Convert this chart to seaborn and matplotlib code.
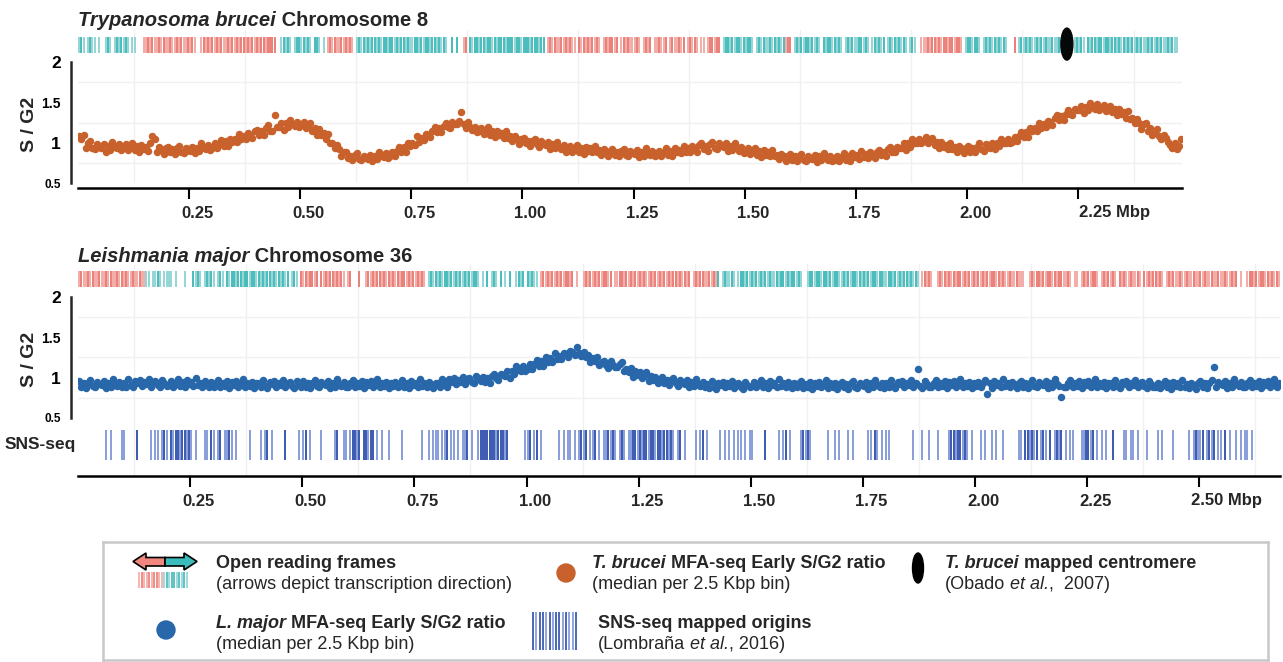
import numpy as np
import pandas as pd
import matplotlib
matplotlib.use('Agg')
import matplotlib.pyplot as plt
import matplotlib.transforms as mtransforms
from matplotlib.patches import Ellipse, Polygon, Circle
from matplotlib.text import Annotation
import seaborn as sns

# MFA-seq early S/G2 ratio, one value per 5 kbp (one row = 0.1 Mbp)
bin_mbp = 0.005
tb_ratio = [
    1.08, 1.04, 1.10, 0.93, 1.00, 1.02, 0.94, 0.92, 0.98, 0.95, 0.93, 0.98, 0.89, 0.96, 0.91, 1.01, 0.95, 0.93, 0.98, 0.91,  # 0.0
    0.93, 0.98, 0.91, 0.95, 0.99, 0.91, 0.96, 0.89, 0.97, 0.92, 0.95, 0.90, 0.99, 1.08, 1.05, 0.88, 0.95, 0.92, 0.86, 0.93,
    0.95, 0.88, 0.92, 0.86, 0.93, 0.96, 0.89, 0.87, 0.94, 0.91, 0.90, 0.95, 0.87, 0.94, 0.90, 0.99, 0.93, 0.92, 0.97, 0.91,
    0.93, 0.99, 0.93, 0.98, 1.03, 0.96, 1.02, 0.96, 1.05, 1.01, 1.05, 1.01, 1.11, 1.04, 1.08, 1.04, 1.12, 1.10, 1.06, 1.14,
    1.16, 1.10, 1.15, 1.10, 1.18, 1.22, 1.15, 1.14, 1.34, 1.20, 1.20, 1.25, 1.16, 1.24, 1.19, 1.28, 1.23, 1.21, 1.26, 1.20,
    1.22, 1.26, 1.18, 1.21, 1.24, 1.14, 1.18, 1.09, 1.17, 1.10, 1.12, 1.04, 1.11, 1.00, 1.00, 0.93, 0.97, 0.92, 0.84, 0.88,  # 0.5
    0.88, 0.81, 0.84, 0.78, 0.85, 0.87, 0.80, 0.78, 0.84, 0.81, 0.80, 0.85, 0.77, 0.84, 0.80, 0.89, 0.83, 0.82, 0.87, 0.81,
    0.83, 0.89, 0.84, 0.90, 0.95, 0.89, 0.95, 0.89, 1.00, 0.96, 1.00, 0.97, 1.08, 1.01, 1.06, 1.03, 1.11, 1.10, 1.07, 1.15,
    1.19, 1.13, 1.18, 1.13, 1.21, 1.25, 1.19, 1.18, 1.26, 1.23, 1.23, 1.27, 1.38, 1.23, 1.18, 1.26, 1.19, 1.16, 1.20, 1.13,
    1.14, 1.18, 1.11, 1.15, 1.19, 1.10, 1.14, 1.07, 1.15, 1.10, 1.12, 1.06, 1.14, 1.06, 1.08, 1.02, 1.08, 1.04, 0.98, 1.05,
    1.06, 0.99, 1.02, 0.96, 1.02, 1.05, 0.98, 0.95, 1.02, 0.98, 0.97, 1.01, 0.92, 0.98, 0.93, 1.01, 0.95, 0.92, 0.97, 0.89,  # 1.0
    0.91, 0.96, 0.89, 0.93, 0.97, 0.89, 0.94, 0.86, 0.95, 0.90, 0.93, 0.88, 0.96, 0.88, 0.91, 0.85, 0.92, 0.89, 0.83, 0.90,
    0.92, 0.85, 0.89, 0.83, 0.90, 0.92, 0.85, 0.83, 0.90, 0.87, 0.86, 0.91, 0.82, 0.89, 0.84, 0.93, 0.87, 0.85, 0.90, 0.83,
    0.85, 0.90, 0.83, 0.89, 0.93, 0.85, 0.90, 0.84, 0.93, 0.88, 0.91, 0.87, 0.96, 0.89, 0.93, 0.88, 0.96, 0.94, 0.89, 0.97,
    0.99, 0.92, 0.96, 0.90, 0.98, 1.01, 0.94, 0.92, 0.99, 0.96, 0.95, 0.99, 0.90, 0.96, 0.91, 0.99, 0.93, 0.90, 0.95, 0.87,
    0.89, 0.93, 0.86, 0.90, 0.94, 0.85, 0.90, 0.82, 0.91, 0.85, 0.88, 0.83, 0.91, 0.83, 0.85, 0.80, 0.86, 0.83, 0.77, 0.84,  # 1.5
    0.86, 0.79, 0.83, 0.77, 0.84, 0.86, 0.79, 0.77, 0.84, 0.81, 0.80, 0.85, 0.76, 0.83, 0.78, 0.87, 0.81, 0.79, 0.84, 0.77,
    0.79, 0.84, 0.77, 0.82, 0.87, 0.79, 0.84, 0.77, 0.87, 0.82, 0.85, 0.80, 0.90, 0.82, 0.86, 0.81, 0.88, 0.86, 0.81, 0.89,
    0.91, 0.85, 0.89, 0.84, 0.92, 0.95, 0.89, 0.88, 0.95, 0.93, 0.93, 0.99, 0.91, 0.99, 0.95, 1.05, 1.00, 0.99, 1.05, 0.99,
    1.02, 1.07, 0.99, 1.03, 1.06, 0.97, 1.01, 0.93, 1.01, 0.95, 0.97, 0.92, 1.00, 0.92, 0.95, 0.89, 0.96, 0.93, 0.87, 0.94,
    0.96, 0.89, 0.94, 0.88, 0.95, 0.99, 0.92, 0.90, 0.98, 0.95, 0.94, 1.00, 0.92, 1.00, 0.96, 1.05, 1.00, 0.99, 1.05, 0.99,  # 2.0
    1.01, 1.07, 1.02, 1.08, 1.13, 1.07, 1.13, 1.07, 1.18, 1.14, 1.18, 1.14, 1.25, 1.18, 1.23, 1.19, 1.27, 1.26, 1.22, 1.31,
    1.34, 1.28, 1.33, 1.28, 1.36, 1.41, 1.35, 1.34, 1.42, 1.40, 1.40, 1.45, 1.37, 1.44, 1.40, 1.49, 1.44, 1.42, 1.48, 1.41,
    1.43, 1.47, 1.39, 1.43, 1.46, 1.38, 1.42, 1.34, 1.42, 1.36, 1.38, 1.31, 1.39, 1.29, 1.30, 1.24, 1.29, 1.24, 1.17, 1.23,
    1.24, 1.15, 1.18, 1.10, 1.15, 1.17, 1.08, 1.05, 1.10, 1.06, 1.01, 0.97, 0.94, 0.99, 0.92, 0.96, 1.04,
]
lm_ratio = [
    0.96, 0.89, 0.93, 0.87, 0.94, 0.97, 0.90, 0.88, 0.95, 0.92, 0.91, 0.96, 0.87, 0.94, 0.89, 0.98, 0.92, 0.90, 0.95, 0.88,  # 0.0
    0.94, 0.89, 0.98, 0.91, 0.88, 0.96, 0.93, 0.97, 0.90, 0.95, 0.92, 0.98, 0.89, 0.94, 0.96, 0.91, 0.88, 0.97, 0.93, 0.90,
    0.91, 0.96, 0.89, 0.94, 0.98, 0.90, 0.95, 0.88, 0.97, 0.92, 0.95, 0.90, 0.99, 0.91, 0.94, 0.89, 0.96, 0.93, 0.88, 0.95,
    0.89, 0.94, 0.97, 0.88, 0.93, 0.90, 0.96, 0.87, 0.95, 0.91, 0.96, 0.89, 0.92, 0.98, 0.88, 0.94, 0.90, 0.95, 0.87, 0.93,
    0.93, 0.88, 0.97, 0.90, 0.87, 0.95, 0.92, 0.96, 0.89, 0.94, 0.91, 0.97, 0.88, 0.93, 0.95, 0.90, 0.87, 0.96, 0.92, 0.89,
    0.96, 0.89, 0.93, 0.87, 0.94, 0.97, 0.90, 0.88, 0.95, 0.92, 0.91, 0.96, 0.87, 0.94, 0.89, 0.98, 0.92, 0.90, 0.95, 0.88,  # 0.5
    0.89, 0.94, 0.97, 0.88, 0.93, 0.90, 0.96, 0.87, 0.95, 0.91, 0.96, 0.89, 0.92, 0.98, 0.88, 0.94, 0.90, 0.95, 0.87, 0.93,
    0.90, 0.95, 0.88, 0.93, 0.97, 0.89, 0.94, 0.87, 0.96, 0.91, 0.94, 0.89, 0.98, 0.90, 0.93, 0.88, 0.95, 0.92, 0.87, 0.94,
    0.94, 0.89, 0.98, 0.92, 0.89, 0.98, 0.95, 0.99, 0.92, 0.97, 0.95, 1.01, 0.92, 0.98, 1.00, 0.95, 0.93, 1.02, 0.99, 0.96,
    1.01, 0.95, 0.99, 0.94, 1.02, 1.05, 0.99, 0.97, 1.05, 1.03, 1.02, 1.08, 1.00, 1.08, 1.04, 1.14, 1.09, 1.08, 1.14, 1.08,
    1.11, 1.17, 1.11, 1.17, 1.22, 1.15, 1.21, 1.15, 1.25, 1.20, 1.24, 1.20, 1.30, 1.23, 1.27, 1.23, 1.31, 1.29, 1.25, 1.33,  # 1.0
    1.32, 1.28, 1.38, 1.31, 1.27, 1.32, 1.26, 1.28, 1.20, 1.24, 1.21, 1.26, 1.16, 1.20, 1.21, 1.16, 1.12, 1.21, 1.16, 1.13,
    1.13, 1.17, 1.19, 1.08, 1.11, 1.07, 1.12, 1.01, 1.08, 1.03, 1.07, 0.99, 1.02, 1.07, 0.96, 1.02, 0.97, 1.01, 0.93, 0.98,
    1.01, 0.93, 0.97, 0.91, 0.97, 0.99, 0.93, 0.90, 0.97, 0.94, 0.92, 0.97, 0.88, 0.95, 0.90, 0.98, 0.92, 0.90, 0.95, 0.88,
    0.92, 0.87, 0.96, 0.89, 0.86, 0.94, 0.91, 0.95, 0.88, 0.93, 0.90, 0.96, 0.87, 0.92, 0.94, 0.89, 0.86, 0.95, 0.91, 0.88,
    0.90, 0.95, 0.88, 0.93, 0.97, 0.89, 0.94, 0.87, 0.96, 0.91, 0.94, 0.89, 0.98, 0.90, 0.93, 0.88, 0.95, 0.92, 0.87, 0.94,  # 1.5
    0.88, 0.93, 0.96, 0.87, 0.92, 0.89, 0.95, 0.86, 0.94, 0.90, 0.95, 0.88, 0.91, 0.97, 0.87, 0.93, 0.89, 0.94, 0.86, 0.92,
    0.95, 0.88, 0.92, 0.86, 0.93, 0.96, 0.89, 0.87, 0.94, 0.91, 0.90, 0.95, 0.86, 0.93, 0.88, 0.97, 0.91, 0.89, 0.94, 0.87,
    0.93, 0.88, 0.97, 0.90, 0.87, 0.95, 0.92, 0.96, 0.89, 0.94, 0.91, 0.97, 0.88, 0.93, 1.11, 0.90, 0.87, 0.96, 0.92, 0.89,
    0.89, 0.94, 0.97, 0.88, 0.93, 0.90, 0.96, 0.87, 0.95, 0.91, 0.96, 0.89, 0.92, 0.98, 0.88, 0.94, 0.90, 0.95, 0.87, 0.93,
    0.90, 0.95, 0.88, 0.93, 0.97, 0.80, 0.94, 0.87, 0.96, 0.91, 0.94, 0.89, 0.98, 0.90, 0.93, 0.88, 0.95, 0.92, 0.87, 0.94,  # 2.0
    0.96, 0.89, 0.93, 0.87, 0.94, 0.97, 0.90, 0.88, 0.95, 0.92, 0.91, 0.96, 0.87, 0.94, 0.89, 0.98, 0.92, 0.90, 0.76, 0.88,
    0.89, 0.94, 0.97, 0.88, 0.93, 0.90, 0.96, 0.87, 0.95, 0.91, 0.96, 0.89, 0.92, 0.98, 0.88, 0.94, 0.90, 0.95, 0.87, 0.93,
    0.93, 0.88, 0.97, 0.90, 0.87, 0.95, 0.92, 0.96, 0.89, 0.94, 0.91, 0.97, 0.88, 0.93, 0.95, 0.90, 0.87, 0.96, 0.92, 0.89,
    0.89, 0.94, 0.87, 0.92, 0.96, 0.88, 0.93, 0.86, 0.95, 0.90, 0.93, 0.88, 0.97, 0.89, 0.92, 0.87, 0.94, 0.91, 0.86, 0.93,
    0.96, 0.89, 0.93, 0.87, 0.94, 0.97, 1.13, 0.88, 0.95, 0.92, 0.91, 0.96, 0.87, 0.94, 0.89, 0.98, 0.92, 0.90, 0.95, 0.88,  # 2.5
    0.89, 0.94, 0.97, 0.88, 0.93, 0.90, 0.96, 0.87, 0.95, 0.91, 0.96, 0.89, 0.92, 0.98, 0.88, 0.94,
]

# gene / origin barcodes, one character per 5 kbp
# T/t = forward strand ORF (dark/light), R/r = reverse strand ORF, B/b = SNS-seq origin, . = nothing
code_mbp = 0.005
tb_orfs = (
    "tTt.tTtt.t" "..tTt.tTtT" "tTt.tt...r" "rRrRrrRrRr" "rRrrRrRrrR"
    "rRr..rRrRr" "RrRrRrrRrR" "rRrRRrRrRr" "RrRRrRRRR." ".tTtTt.tTT"
    "tTtTt.TTt." "t.rRrRrrRr" "RrRr.tTtTt" "TtTTtTtTTt" "TTtTtTTtTt"
    "tTTtTtTTtT" "TtTtTt..T." "T..rR.TtTT" "tTTtTTtTtT" "TTtTTTtTTt"
    "TTTtTTTtTT" ".rRrRrrRrR" "rRrr.RrRrR" "rRrRr.rRrR" "RrR.rRrRrr"
    "rRr.rRrR.r" "rRrrR.rRrr" "RrR.rRrRr." "rr.rRRrRR." "tTTtTtTTtT"
    "tTTt.tTtTt" "tTtTtTtTrR" "R.tTtTtTTt" "TtTt.TtTTt" "TtTt.tTtTt"
    "tTTtTt.tTt" "TtT.tTtTtT" "tTt.tTt..r" "rrRrRRrRrR" "RrRRrRRr.t"
    "TTtTTt.tTt" "TtTtTtTt.." ".R.tTtTtTt" "tTtTtTttTt" "tTt.....tT"
    "tTt.TtTTtT" "TtTTtTTtTt" "TtTtTtTtTt" "tTtTtTtTtt" "TtTtt"
)
lm_orfs = (
    "rRrrRrRrrR" "rrRrRrrRrR" "rRrrRrrRrr" "tt.ttTt.tt" "tt.t...t.."
    ".TtTt.tTtT" "t.tTt.TtTT" "tTTtTTtTTt" "TtTtTTtTtT" "tTtT.tTt.R"
    "rRrRRrR.Rr" "RrRRrRrRr." "rR...R..rR" "rRrRRrRrRr" "RrRrRRrRrR"
    "rRrRr.tTtT" "tTtTTtTtTt" "TtTtTtTTt." "t.T.tTt.T." "t.T..tTtT."
    "TtTtt.rRrR" "rRrRrRrRRr" "R.r..rRrRr" "RrRrRRrR.r" "rRRrRrRrRr"
    "RrRrrRrRrR" "rRrRrRRrRr" "RrR.rRrRRr" "rRrRrT.tTt" "tTt.tTTtTt"
    "TtTtTtTtTt" "tTtTTtTtTT" "tTt..tTTtT" "TtTTtTtTTt" "tTtTtTTtTt"
    "TtTtTTtTTt" "tTTtTtTtTT" "tTtTt.rRrR" "r..rRrRrRr" "RrRRrRrRrR"
    "rRrRrRrRRr" "RrRrrRrrRr" "rr..rRrRRr" "RrRRrRrRRr" "rRr.rr.rRr"
    "RrRRr.rRrR" "rRr.RrRrrR" "rrRr.RrRrR" "RrRr.rRrRr" "rRrrRrrRrr"
    "RrRrrRrrRr" "rRrrRrR.r." ".rRRrRrRRr" "RrRrRr"
)
lm_sns = (
    ".........." "..b.b....b" "b.....B..." "..b.bb.bBb" ".BbBBbBBbB"
    "b.b...bb.B" "b.bB.bbBb." "b.....b..." ".b.bB.b..." "..B.....b."
    "bB.b....b." "....bB..bb" ".bBBbB.BBb" "BB.b.b..b." "....b....."
    "...b..b.bb" "b.bbB.bb.b" ".bbB.b..bB" "BBBBBBbBBB" "bB.......b"
    "bB.bB.b..." "....b.b.bb" ".b.bBbB.bb" "B.b.bbBbBb" ".bBb.bbBBb"
    "BbBBbBBbBB" "bBBbBb.bB." "b....b.bB." "b.....b.b." "b.b.bb.b.b"
    "b.....B..." "..b.bB.b.." "..bBbBb..." "....b..b.b" "...b.b...."
    "..bb.Bb.b." "bb........" "..b...b..b" "...b....bB" "BbBBbBb.b."
    "..b.b..b.b" "..b......b" "b.BBbBbB.b" "Bb.B.bBbB." "b.bb...bbB"
    "BbB.b.b.b." ".B....bb.b" "b.b...b..." ".b.b....b." ".....b.bBb"
    "bB.bBbB.bb" ".B.b..b.b." "bb.b......"
)

tb_centromere = 2.225
tb_length = 2.484
lm_length = 2.68

tb_xticks = [0.25, 0.50, 0.75, 1.00, 1.25, 1.50, 1.75, 2.00, 2.25]
tb_xlabels = ['0.25', '0.50', '0.75', '1.00', '1.25', '1.50', '1.75', '2.00', '2.25 Mbp']
lm_xticks = [0.25, 0.50, 0.75, 1.00, 1.25, 1.50, 1.75, 2.00, 2.25, 2.50]
lm_xlabels = ['0.25', '0.50', '0.75', '1.00', '1.25', '1.50', '1.75', '2.00', '2.25', '2.50 Mbp']
y_ticks = [0.5, 1, 1.5, 2]
y_labels = ['0.5', '1', '1.5', '2']
y_label_sizes = [8.5, 12.5, 10, 12.5]

orf_colors = {'T': '#30b3b4', 't': '#88d0d1', 'R': '#e86e67', 'r': '#f1a29b'}
sns_colors = {'B': '#2b4dab', 'b': '#7f95d8'}
tb_color = '#c8612b'
lm_color = '#2767aa'

sns.set_style('white')
plt.rcParams['font.family'] = ['Liberation Sans', 'DejaVu Sans']

W, H = 1283, 662
fig = plt.figure(figsize=(W / 100, H / 100), dpi=100)


def px_axes(x0, y0, x1, y1):
    return fig.add_axes([x0 / W, 1 - y1 / H, (x1 - x0) / W, (y1 - y0) / H])


def mid_grid(ax, length, yaxis=False):
    ax.set_xticks(np.arange(0.125, length, 0.25), minor=True)
    if yaxis:
        ax.set_yticks([0.75, 1.25, 1.75], minor=True)
    ax.grid(True, which='minor', color='#f0f0f0', linewidth=1)
    ax.grid(False, which='major')
    ax.tick_params(which='minor', length=0)
    ax.set_axisbelow(True)


def barcode(ax, code, colors, y0, y1, lw=1.25):
    pos = (np.arange(len(code)) + 0.5) * code_mbp
    chars = np.array(list(code))
    for key, col in colors.items():
        ax.vlines(pos[chars == key], y0, y1, colors=col, linewidth=lw)


def strip_axes(box, length):
    ax = px_axes(*box)
    ax.set_xlim(0, length)
    ax.set_ylim(0, 1)
    for s in ax.spines.values():
        s.set_visible(False)
    ax.set_xticks([])
    ax.set_yticks([])
    mid_grid(ax, length)
    return ax


def ratio_panel(box, ratio, color, length):
    ax = px_axes(*box)
    df = pd.DataFrame({'pos': (np.arange(len(ratio)) + 0.5) * bin_mbp, 'ratio': ratio})
    sns.scatterplot(data=df, x='pos', y='ratio', color=color, s=29, linewidth=0,
                    ax=ax, legend=False, zorder=3)
    ax.set_xlim(0, length)
    ax.set_ylim(0.5, 2)
    ax.set_xlabel('')
    ax.set_ylabel('')
    mid_grid(ax, length, yaxis=True)
    ax.spines['top'].set_visible(False)
    ax.spines['right'].set_visible(False)
    ax.spines['left'].set_position(('outward', 5))
    ax.spines['left'].set_linewidth(1.8)
    ax.set_yticks(y_ticks)
    ax.set_yticklabels(y_labels, fontweight='bold')
    for lab, fs in zip(ax.get_yticklabels(), y_label_sizes):
        lab.set_fontsize(fs)
    ax.tick_params(axis='y', which='major', length=4.5, width=1.5, pad=3, colors='black')
    return ax


def x_axis(ax, ticks, labels, outward, last_dx):
    ax.spines['bottom'].set_visible(True)
    ax.spines['bottom'].set_position(('outward', outward))
    ax.spines['bottom'].set_linewidth(1.8)
    ax.spines['bottom'].set_color('black')
    ax.set_xticks(ticks)
    ax.set_xticklabels([])
    ax.tick_params(axis='x', which='major', bottom=True, length=8, width=1.5, direction='out', colors='black')
    trans = mtransforms.blended_transform_factory(ax.transData, ax.transAxes)
    for i, (t, lab) in enumerate(zip(ticks, labels)):
        dx = last_dx if i == len(ticks) - 1 else -8
        off = mtransforms.ScaledTranslation(dx / 100, -(outward / 0.72 + 25) / 100, fig.dpi_scale_trans)
        ax.text(t, 0, lab, transform=trans + off, ha='left', va='center',
                fontsize=12, fontweight='bold')


def rich_text(x, y, parts, size):
    txt, style, weight = parts[0]
    prev = fig.text(x / W, 1 - y / H, txt, fontsize=size, fontstyle=style,
                    fontweight=weight, ha='left', va='baseline')
    for txt, style, weight in parts[1:]:
        ann = Annotation(txt, xy=(1, 0), xycoords=prev, ha='left', va='bottom',
                         fontsize=size, fontstyle=style, fontweight=weight)
        fig.add_artist(ann)
        prev = ann


# ---- Trypanosoma brucei chromosome 8 ----
rich_text(78, 26, [('Trypanosoma brucei', 'italic', 'bold'), (' Chromosome 8', 'normal', 'bold')], 14.5)
ax_tb_strip = strip_axes((78, 30, 1182, 62), tb_length)
barcode(ax_tb_strip, tb_orfs, orf_colors, 0.281, 0.781)
cen = Ellipse((tb_centromere, 0.56), 0.027, 1.0, color='#050808', clip_on=False, zorder=5,
              transform=mtransforms.blended_transform_factory(ax_tb_strip.transData, ax_tb_strip.transAxes))
ax_tb_strip.add_patch(cen)

ax_tb = ratio_panel((78, 62, 1182, 183), tb_ratio, tb_color, tb_length)
x_axis(ax_tb, tb_xticks, tb_xlabels, 3.6, 1)
fig.text(29 / W, 1 - 124 / H, 'S / G2', rotation=90, ha='center', va='center', fontsize=14, fontweight='bold')

# ---- Leishmania major chromosome 36 ----
rich_text(78, 262, [('Leishmania major', 'italic', 'bold'), (' Chromosome 36', 'normal', 'bold')], 14.5)
ax_lm_strip = strip_axes((78, 264, 1280, 297), lm_length)
barcode(ax_lm_strip, lm_orfs, orf_colors, 0.303, 0.788)

ax_lm = ratio_panel((78, 297, 1280, 418), lm_ratio, lm_color, lm_length)
ax_lm.spines['bottom'].set_visible(False)
ax_lm.tick_params(axis='x', which='major', bottom=False, labelbottom=False)
fig.text(29 / W, 1 - 359 / H, 'S / G2', rotation=90, ha='center', va='center', fontsize=14, fontweight='bold')

ax_sns = strip_axes((78, 418, 1280, 476), lm_length)
barcode(ax_sns, lm_sns, sns_colors, 0.276, 0.793, lw=1.3)
x_axis(ax_sns, lm_xticks, lm_xlabels, 0, -8)
fig.text(76 / W, 1 - 445 / H, 'SNS-seq', ha='right', va='center', fontsize=12.5, fontweight='bold')

# ---- legend box ----
ax_leg = px_axes(103, 542, 1268, 660)
ax_leg.set_xlim(103, 1268)
ax_leg.set_ylim(660, 542)
ax_leg.set_xticks([])
ax_leg.set_yticks([])
for s in ax_leg.spines.values():
    s.set_color('#c8c8c8')
    s.set_linewidth(1.8)

ax_leg.add_patch(Polygon([(133, 561.5), (146, 553), (146, 557.5), (165, 557.5), (165, 566),
                          (146, 566), (146, 570)], closed=True, facecolor='#f0867e',
                         edgecolor='black', linewidth=1.2))
ax_leg.add_patch(Polygon([(197, 561.5), (184, 553), (184, 557.5), (165, 557.5), (165, 566),
                          (184, 566), (184, 570)], closed=True, facecolor='#3bbcbc',
                         edgecolor='black', linewidth=1.2))
icon_orfs = 'rRrrRrRRrr' + 'tTtTTtTtTt'
for i, c in enumerate(icon_orfs):
    ax_leg.vlines(139 + i * 2.5, 572, 588, colors=orf_colors[c], linewidth=1.1)
ax_leg.add_patch(Circle((566, 573), 9, color=tb_color))
ax_leg.add_patch(Circle((166, 630), 9, color=lm_color))
ax_leg.add_patch(Ellipse((918, 568), 11, 30, color='black'))
icon_sns = 'BbBBbBbBBbBbbB'
for i, c in enumerate(icon_sns):
    ax_leg.vlines(533 + i * 3.3, 612, 650, colors=sns_colors[c], linewidth=1.2)

rich_text(216, 568, [('Open reading frames', 'normal', 'bold')], 13)
rich_text(216, 589, [('(arrows depict transcription direction)', 'normal', 'normal')], 13)
rich_text(592, 568, [('T. brucei', 'italic', 'bold'), (' MFA-seq Early S/G2 ratio', 'normal', 'bold')], 13)
rich_text(592, 589, [('(median per 2.5 Kbp bin)', 'normal', 'normal')], 13)
rich_text(945, 568, [('T. brucei', 'italic', 'bold'), (' mapped centromere', 'normal', 'bold')], 13)
rich_text(945, 589, [('(Obado', 'normal', 'normal'), (' et al.', 'italic', 'normal'),
                     (',  2007)', 'normal', 'normal')], 13)
rich_text(216, 628, [('L. major', 'italic', 'bold'), (' MFA-seq Early S/G2 ratio', 'normal', 'bold')], 13)
rich_text(216, 649, [('(median per 2.5 Kbp bin)', 'normal', 'normal')], 13)
rich_text(598, 628, [('SNS-seq mapped origins', 'normal', 'bold')], 13)
rich_text(598, 649, [('(Lombraña', 'normal', 'normal'), (' et al.', 'italic', 'normal'),
                     (', 2016)', 'normal', 'normal')], 13)

fig.savefig('out.png', dpi=100)
